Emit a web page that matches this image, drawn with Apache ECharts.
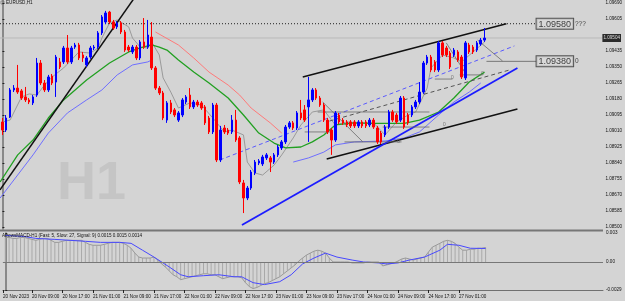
<!DOCTYPE html>
<html><head><meta charset="utf-8">
<script src="https://cdn.jsdelivr.net/npm/echarts@6/dist/echarts.min.js"></script>
<style>html,body{margin:0;padding:0;background:#d4d4d4;}#c{width:625px;height:301px;}</style>
</head><body><div id="c"></div>
<script>
// ---- time axis (bar index 0 = 20 Nov 2023 02:00, H1 bars) ----
const timeIdx = [-0.6,7,15,23,31,39,47,55,63,71,79,87,95,103,111,119];
const timeLbl = ['20 Nov 2023','20 Nov 09:00','20 Nov 17:00','21 Nov 01:00','21 Nov 09:00','21 Nov 17:00','22 Nov 01:00','22 Nov 09:00','22 Nov 17:00','23 Nov 01:00','23 Nov 09:00','23 Nov 17:00','24 Nov 01:00','24 Nov 09:00','24 Nov 17:00','27 Nov 01:00'];
// ---- price axis ticks ----
const priceTicks = [1.08500,1.08585,1.08670,1.08755,1.08840,1.08925,1.09010,1.09095,1.09180,1.09265,1.09350,1.09435,1.09605,1.09690];
const macdTicks = [0.003,0,-0.0029];
const macdTickLbl = ['0.003','0.00','-0.0029'];
// ---- OHLC ----
const opens = [1.09058,1.09015,1.09084,1.09228,1.09238,1.09223,1.09191,1.09175,1.09159,1.09201,
1.09371,1.09265,1.09228,1.09302,1.09270,1.09377,1.09377,1.09451,1.09377,1.09456,
1.09467,1.09414,1.09361,1.09403,1.09451,1.09456,1.09531,1.09589,1.09642,1.09589,
1.09563,1.09584,1.09536,1.09456,1.09430,1.09456,1.09398,1.09483,1.09456,1.09509,
1.09345,1.09238,1.09212,1.09068,1.09159,1.09122,1.09068,1.09095,1.09164,1.09201,
1.09138,1.09164,1.09159,1.09138,1.09079,1.09005,1.09148,1.08856,1.09026,1.09015,
1.09005,1.09068,1.08973,1.08734,1.08654,1.08707,1.08787,1.08840,1.08835,1.08867,
1.08867,1.08845,1.08883,1.08920,1.08952,1.09031,1.09053,1.09026,1.09106,1.09122,
1.09138,1.09175,1.09228,1.09185,1.09148,1.09068,1.09015,1.08962,1.09095,1.09068,
1.09058,1.09058,1.09058,1.09037,1.09058,1.09058,1.09042,1.09068,1.09026,1.08999,
1.08989,1.09031,1.09111,1.09095,1.09068,1.09185,1.09095,1.09095,1.09138,1.09164,
1.09217,1.09371,1.09403,1.09377,1.09334,1.09478,1.09451,1.09424,1.09414,1.09430,
1.09403,1.09292,1.09467,1.09456,1.09440,1.09472,1.09493];
const closes = [1.09015,1.09079,1.09228,1.09238,1.09217,1.09185,1.09175,1.09164,1.09191,1.09371,
1.09265,1.09228,1.09297,1.09265,1.09403,1.09350,1.09451,1.09377,1.09451,1.09467,
1.09398,1.09398,1.09398,1.09451,1.09456,1.09531,1.09616,1.09637,1.09589,1.09557,
1.09584,1.09536,1.09440,1.09440,1.09456,1.09398,1.09483,1.09456,1.09520,1.09345,
1.09238,1.09212,1.09079,1.09159,1.09111,1.09095,1.09106,1.09175,1.09191,1.09138,
1.09164,1.09148,1.09132,1.09053,1.09005,1.09148,1.08856,1.09015,1.09005,1.08999,
1.09068,1.08962,1.08739,1.08654,1.08707,1.08792,1.08845,1.08851,1.08872,1.08883,
1.08845,1.08883,1.08925,1.08952,1.09031,1.09053,1.09026,1.09106,1.09079,1.09068,
1.09175,1.09228,1.09185,1.09148,1.09068,1.09005,1.08962,1.09106,1.09058,1.09053,
1.09042,1.09037,1.09037,1.09058,1.09037,1.09037,1.09068,1.09031,1.08952,1.08952,
1.09031,1.09111,1.09068,1.09058,1.09185,1.09031,1.09053,1.09138,1.09164,1.09217,
1.09371,1.09403,1.09334,1.09334,1.09478,1.09414,1.09414,1.09350,1.09440,1.09387,
1.09297,1.09478,1.09430,1.09430,1.09478,1.09493,1.09504];
const lows = [1.08989,1.09005,1.09079,1.09217,1.09207,1.09175,1.09164,1.09153,1.09148,1.09191,
1.09254,1.09217,1.09217,1.09254,1.09191,1.09339,1.09366,1.09366,1.09366,1.09446,
1.09387,1.09377,1.09350,1.09393,1.09440,1.09446,1.09520,1.09578,1.09578,1.09547,
1.09552,1.09525,1.09430,1.09430,1.09419,1.09387,1.09387,1.09446,1.09446,1.09334,
1.09228,1.09201,1.09068,1.09053,1.09100,1.09084,1.09058,1.09084,1.09153,1.09127,
1.09127,1.09138,1.09122,1.09042,1.08994,1.08994,1.08845,1.08845,1.08994,1.08989,
1.08994,1.08952,1.08728,1.08574,1.08643,1.08697,1.08776,1.08829,1.08824,1.08856,
1.08792,1.08835,1.08872,1.08909,1.08941,1.09021,1.09015,1.09015,1.09068,1.09058,
1.08952,1.09164,1.09175,1.09138,1.09058,1.08994,1.08883,1.08952,1.09047,1.09042,
1.09031,1.09026,1.09026,1.09026,1.09026,1.09026,1.09031,1.09021,1.08941,1.08941,
1.08978,1.09021,1.09058,1.09047,1.09058,1.09021,1.09042,1.09084,1.09127,1.09153,
1.09207,1.09361,1.09323,1.09323,1.09323,1.09403,1.09403,1.09339,1.09403,1.09377,
1.09286,1.09281,1.09419,1.09419,1.09430,1.09462,1.09483];
const highs = [1.09079,1.09095,1.09238,1.09254,1.09361,1.09233,1.09244,1.09185,1.09201,1.09398,
1.09387,1.09281,1.09308,1.09313,1.09414,1.09398,1.09462,1.09520,1.09462,1.09478,
1.09478,1.09430,1.09408,1.09462,1.09467,1.09541,1.09626,1.09648,1.09648,1.09600,
1.09594,1.09594,1.09547,1.09467,1.09467,1.09467,1.09493,1.09610,1.09600,1.09589,
1.09355,1.09249,1.09223,1.09169,1.09175,1.09132,1.09116,1.09185,1.09201,1.09238,
1.09175,1.09175,1.09169,1.09148,1.09090,1.09159,1.09159,1.09037,1.09042,1.09026,
1.09095,1.09122,1.08983,1.08750,1.08718,1.08803,1.08856,1.08861,1.08883,1.08893,
1.08877,1.08893,1.08936,1.08962,1.09042,1.09063,1.09063,1.09116,1.09175,1.09148,
1.09297,1.09238,1.09238,1.09196,1.09159,1.09079,1.09026,1.09116,1.09106,1.09079,
1.09068,1.09068,1.09068,1.09068,1.09068,1.09068,1.09079,1.09079,1.09037,1.09010,
1.09042,1.09122,1.09122,1.09106,1.09196,1.09196,1.09106,1.09148,1.09175,1.09270,
1.09382,1.09414,1.09414,1.09387,1.09488,1.09488,1.09462,1.09435,1.09451,1.09440,
1.09414,1.09488,1.09478,1.09467,1.09488,1.09504,1.09557];
// ---- moving averages: [bar index, price] ----
const maGray = [[0,1.09058],[2,1.09068],[5,1.09191],[7,1.09207],[9,1.09201],[11,1.09254],[13,1.09297],[16,1.09345],[18,1.09387],[20,1.09430],[23,1.09424],[25,1.09451],[26,1.09504],[28,1.09584],[30,1.09600],[33,1.09563],[34,1.09504],[36,1.09456],[38,1.09451],[39,1.09483],[41,1.09414],[42,1.09292],[44,1.09217],[46,1.09132],[49,1.09159],[52,1.09148],[55,1.09079],[58,1.09005],[60,1.09015],[63,1.08989],[64,1.08845],[66,1.08787],[68,1.08776],[71,1.08829],[73,1.08883],[76,1.08973],[78,1.09042],[81,1.09111],[84,1.09122],[85,1.09095],[87,1.09042],[90,1.09058],[93,1.09053],[97,1.09053],[100,1.08989],[103,1.09058],[106,1.09095],[108,1.09111],[111,1.09238],[112,1.09345],[115,1.09414],[118,1.09398],[120,1.09377],[123,1.09430],[126,1.09483]];
const maGreen = [[-0.6,1.08739],[4,1.08883],[8,1.08962],[12,1.09079],[16,1.09175],[22,1.09281],[28,1.09371],[33,1.09430],[36,1.09451],[39,1.09467],[41,1.09456],[43,1.09440],[46,1.09387],[47,1.09371],[50,1.09323],[54,1.09265],[59,1.09185],[63,1.09095],[67,1.08999],[71,1.08946],[74,1.08920],[78,1.08925],[81,1.08952],[84,1.08989],[87,1.09042],[92,1.09053],[96,1.09050],[105,1.09050],[109,1.09068],[114,1.09111],[118,1.09185],[122,1.09270],[126,1.09323]];
const maRed = [[40,1.09536],[46,1.09467],[50,1.09398],[54,1.09323],[59,1.09254],[62,1.09201],[65,1.09132],[70,1.09053],[73,1.08999]];
const maBlueA = [[-0.6,1.08654],[8,1.08883],[12,1.08999],[17,1.09106],[22,1.09175],[26,1.09228],[30,1.09308],[34,1.09361],[38,1.09377],[39,1.09387]];
const maBlueB = [[76,1.08845],[80,1.08867],[84,1.08898],[87,1.08936],[92,1.08952],[100,1.08957],[105,1.08973],[109,1.09005],[114,1.09095],[118,1.09164],[122,1.09217],[125,1.09265]];
// ---- drawn trend lines: [bar index, price] end points ----
const tlBlackLeft = [[-0.63,1.08697],[35.93,1.09759]];
const tlChanTop = [[78.5,1.09297],[131.7,1.09580]];
const tlChanBot = [[84.75,1.08861],[134.6,1.09127]];
const tlBlue = [[62.6,1.08511],[134.6,1.09345]];
const tlBlueDash = [[56.8,1.08856],[133.8,1.09462]];
const tlGrayDash = [[85.5,1.09063],[132.5,1.09334]];
// pattern objects (thin grey segments) around 23-27 Nov
const patternSegs = [
  [[82.4,1.09111],[111.6,1.09111]],
  [[79.0,1.09005],[86.3,1.09005]],
  [[99.4,1.09031],[111.6,1.09031]],
  [[89.4,1.08952],[104.3,1.08952]],
  [[113.0,1.09286],[117.6,1.09286]],
  [[119.5,1.09308],[125.5,1.09308]],
  [[83.7,1.09164],[94.2,1.08952]],
  [[116.0,1.09478],[121.3,1.09308]],
  [[124.2,1.09493],[130.7,1.09382]]
];
const patternZeros = [[103.5,1.08952],[115.5,1.09047],[117.6,1.09292],[125.5,1.09318]];
const lvlTop = 1.09580, lvlTopLbl = '1.09580', lvlTopTxt = '???';
const lvlMid = 1.09380, lvlMidLbl = '1.09380', lvlMidTxt = '0';
const lvlStartIdx = -0.63, lvlMidStartIdx = 126.5, lvlEndIdx = 139.6;
const bid = 1.09504, bidLbl = '1.09504';
// ---- MACD (Fast 5, Slow 27, Signal 9) ----
const macdMain = [0.00254,0.00254,0.00244,0.00244,0.00254,0.00254,0.00244,0.00234,0.00224,0.00234,
0.00244,0.00244,0.00224,0.00203,0.00203,0.00214,0.00224,0.00224,0.00224,0.00224,
0.00224,0.00203,0.00183,0.00173,0.00173,0.00173,0.00183,0.00193,0.00203,0.00203,
0.00203,0.00193,0.00173,0.00142,0.00092,0.00051,0.00041,0.00041,0.00041,0.00051,
0.00020,-0.00020,-0.00051,-0.00092,-0.00132,-0.00153,-0.00183,-0.00173,-0.00163,-0.00153,
-0.00142,-0.00132,-0.00122,-0.00122,-0.00132,-0.00132,-0.00153,-0.00173,-0.00163,-0.00153,
-0.00153,-0.00153,-0.00163,-0.00214,-0.00254,-0.00275,-0.00264,-0.00244,-0.00224,-0.00214,
-0.00193,-0.00173,-0.00153,-0.00122,-0.00092,-0.00061,-0.00031,0.00010,0.00041,0.00071,
0.00092,0.00112,0.00122,0.00112,0.00092,0.00041,0.00000,0.00000,0.00000,0.00000,
0.00000,-0.00010,-0.00010,-0.00010,-0.00010,0.00000,0.00000,0.00000,0.00000,-0.00041,
-0.00031,-0.00020,-0.00010,0.00010,0.00031,0.00041,0.00031,0.00020,0.00031,0.00041,
0.00051,0.00102,0.00153,0.00173,0.00193,0.00214,0.00224,0.00214,0.00193,0.00153,
0.00122,0.00122,0.00132,0.00132,0.00142,0.00142,0.00150];
const macdSignal = [[0,0.00275],[5,0.00264],[8,0.00244],[13,0.00234],[17,0.00224],[21,0.00214],[25,0.00203],[30,0.00203],[33,0.00193],[36,0.00122],[39,0.00051],[43,-0.00051],[46,-0.00132],[48,-0.00153],[52,-0.00142],[56,-0.00132],[60,-0.00153],[62,-0.00153],[65,-0.00214],[68,-0.00234],[72,-0.00204],[75,-0.00132],[78,-0.00020],[81,0.00041],[84,0.00092],[87,0.00051],[91,0.00020],[94,0.00000],[98,-0.00010],[100,-0.00020],[103,-0.00010],[106,0.00020],[110,0.00051],[114,0.00122],[116,0.00183],[119,0.00173],[122,0.00142],[126,0.00140]];
const macdTitle = 'ArrowsMACD-H1 (Fast: 5, Slow: 27, Signal: 9) 0.0015 0.0015 0.0014';
const symbolTitle = 'EURUSD,H1';

const candles = opens.map((o,i)=>[i,o,closes[i],lows[i],highs[i]]);
const macdBars = macdMain.map((v,i)=>[i,v]);

const FONT = 'Liberation Sans';
const X_MIN = -0.63, X_MAX = 156.8;
const Y_MAX = 1.0969 + 3/18823.5, Y_MIN = 1.085 - 2/18823.5;

function tline(data, color, width, type, z){
  return {type:'line', xAxisIndex:0, yAxisIndex:0, data, symbol:'none', silent:true, clip:true, z:z||3,
    lineStyle:{color, width, type:type||'solid'}};
}

const series = [
  tline([[X_MIN,bid],[X_MAX,bid]],'#b9b9b9',1,'solid',1),
  {type:'scatter',xAxisIndex:0,yAxisIndex:0,symbolSize:0,silent:true,clip:false,z:20,data:[[X_MAX,bid]],
    label:{show:true,position:'right',distance:0,formatter:bidLbl,backgroundColor:'#000',color:'#fff',fontSize:4.6,fontFamily:FONT,padding:[2,1,1,1]}},
  tline(maGray,'#9a9a9a',1),
  tline(maRed,'#ff7a7a',1),
  tline(maGreen,'#22a022',1.3),
  tline(maBlueA,'#6e6eff',1),
  tline(maBlueB,'#6e6eff',1),
  tline(tlBlackLeft,'#111',1.5),
  tline(tlChanTop,'#111',1.5),
  tline(tlChanBot,'#111',1.5),
  tline(tlBlue,'#1c1cff',1.8),
  tline(tlBlueDash,'#5a5aff',1,[4,3]),
  tline(tlGrayDash,'#555',1,[4,3]),
  tline([[lvlStartIdx,lvlTop],[lvlEndIdx,lvlTop]],'#222',1,[1,2]),
  tline([[lvlMidStartIdx,lvlMid],[lvlEndIdx,lvlMid]],'#777',1)
];
patternSegs.forEach(s=>series.push(tline(s,'#6a6a6a',0.8)));
series.push(
  {type:'scatter',xAxisIndex:0,yAxisIndex:0,symbolSize:0,silent:true,z:9,data:patternZeros,
    label:{show:true,position:'inside',formatter:'0',fontSize:5.5,fontFamily:FONT,color:'#666'}},
  {type:'candlestick',xAxisIndex:0,yAxisIndex:0,data:candles,z:5,
    encode:{x:0,y:[1,2,3,4]},barWidth:2,
    itemStyle:{color:'#0000ff',color0:'#ff0000',borderColor:'#0000ff',borderColor0:'#ff0000',borderWidth:1}},
  {type:'scatter',xAxisIndex:0,yAxisIndex:0,symbolSize:0,silent:true,z:10,
    data:[[lvlEndIdx,lvlTop,lvlTopLbl,lvlTopTxt],[lvlEndIdx,lvlMid,lvlMidLbl,lvlMidTxt]],
    label:{show:true,position:'right',distance:0,
      formatter:p=>'{a|'+p.data[2]+'}{b| '+p.data[3]+'}',
      rich:{a:{fontSize:9,fontFamily:FONT,color:'#111',backgroundColor:'#d8d8d8',borderColor:'#333',borderWidth:1,padding:[1,2,0,2]},
            b:{fontSize:6.5,fontFamily:FONT,color:'#222'}}}},
  {type:'bar',xAxisIndex:1,yAxisIndex:1,data:macdBars,barWidth:1,silent:true,itemStyle:{color:'#a9a9a9'},
    markLine:{symbol:'none',silent:true,label:{show:false},lineStyle:{color:'#777',width:1,type:'solid'},data:[{yAxis:0}]}},
  {type:'line',xAxisIndex:1,yAxisIndex:1,data:macdBars,symbol:'none',silent:true,lineStyle:{color:'#999',width:1}},
  {type:'line',xAxisIndex:1,yAxisIndex:1,data:macdSignal,symbol:'none',silent:true,lineStyle:{color:'#4848ff',width:1}}
);

const chart = echarts.init(document.getElementById('c'), null, {renderer:'canvas', width:625, height:301});
chart.setOption({
  animation:false,
  backgroundColor:'#d4d4d4',
  grid:[{left:0,right:22,top:0,height:229},{left:0,right:22,top:233,height:57}],
  xAxis:[
    {type:'value',gridIndex:0,min:X_MIN,max:X_MAX,show:false},
    {type:'value',gridIndex:1,min:X_MIN,max:X_MAX,
      axisLine:{show:true,onZero:false,lineStyle:{color:'#707070',width:1}},
      axisTick:{show:true,customValues:timeIdx,length:3,lineStyle:{color:'#222'}},
      axisLabel:{customValues:timeIdx,formatter:v=>timeLbl[timeIdx.indexOf(v)]||'',fontSize:4.6,color:'#111',align:'left',margin:4,fontFamily:FONT},
      splitLine:{show:false}}
  ],
  yAxis:[
    {type:'value',gridIndex:0,position:'right',min:Y_MIN,max:Y_MAX,
      axisLine:{show:true,lineStyle:{color:'#707070',width:1.5}},
      axisTick:{show:true,customValues:priceTicks,length:2,lineStyle:{color:'#222'}},
      axisLabel:{customValues:priceTicks,formatter:v=>v.toFixed(5),fontSize:4.6,color:'#111',margin:3,fontFamily:FONT},
      splitLine:{show:false}},
    {type:'value',gridIndex:1,position:'right',min:-0.0029,max:0.003,
      axisLine:{show:true,lineStyle:{color:'#707070',width:1.5}},
      axisTick:{show:true,customValues:macdTicks,length:2,lineStyle:{color:'#222'}},
      axisLabel:{customValues:macdTicks,formatter:v=>macdTickLbl[macdTicks.indexOf(v)]||'',fontSize:4.6,color:'#111',margin:3,fontFamily:FONT},
      splitLine:{show:false}}
  ],
  graphic:[
    {type:'text',left:57,top:157,z:0,style:{text:'H1',font:'bold 54px "Liberation Sans"',fill:'#c5c5c5'}},
    {type:'rect',shape:{x:1,y:1,width:3,height:3},style:{fill:'#e0e0e0',stroke:'#606060',lineWidth:0.6}},
    {type:'text',left:6,top:0.5,style:{text:symbolTitle,font:'4.6px "Liberation Sans"',fill:'#111'}},
    {type:'rect',shape:{x:0,y:229.5,width:603,height:2},style:{fill:'#777'}},
    {type:'text',left:2,top:233,z:50,style:{text:macdTitle,font:'4.6px "Liberation Sans"',fill:'#111'}}
  ],
  series
});
</script></body></html>
